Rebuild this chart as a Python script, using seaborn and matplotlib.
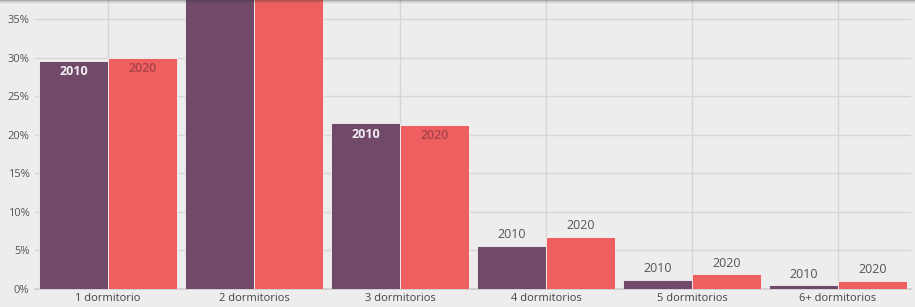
import numpy as np
import pandas as pd
import seaborn as sns
import matplotlib.pyplot as plt
from matplotlib.patches import Rectangle
from matplotlib.ticker import FuncFormatter

# data (percent of dwellings)
categories = ["1 dormitorio", "2 dormitorios", "3 dormitorios",
              "4 dormitorios", "5 dormitorios", "6+ dormitorios"]
years = ["2010", "2020"]
values_2010 = [29.6, 39.0, 21.5, 5.6, 1.2, 0.5]
values_2020 = [30.0, 38.6, 21.3, 6.8, 1.9, 1.1]

BG = "#ededed"
GRID = "#d6d6d6"
PURPLE = "#714a69"
RED = "#f05f5f"
TEXT = "#555555"


def build_df():
    rows = []
    for cat, v10, v20 in zip(categories, values_2010, values_2020):
        rows.append({"cat": cat, "year": years[0], "value": v10})
        rows.append({"cat": cat, "year": years[1], "value": v20})
    return pd.DataFrame(rows)


def plot_df(df):
    sns.set_theme(style="whitegrid")
    plt.rcParams['font.family'] = ['Open Sans', 'DejaVu Sans']

    fig = plt.figure(figsize=(9.15, 3.07), dpi=100, facecolor=BG)
    ax = fig.add_axes([35 / 915, 18 / 307, 876 / 915, 289 / 307])
    ax.set_facecolor(BG)

    ax = sns.barplot(data=df, x="cat", y="value", hue="year", order=categories,
                     hue_order=years, palette=[PURPLE, RED], width=0.94,
                     saturation=1, edgecolor="#f4f4f4", linewidth=0.6, ax=ax,
                     legend=False, zorder=3)

    ax.set_xlim(-0.5, len(categories) - 0.5)
    ax.set_ylim(0, 37.5)
    ax.set_yticks(np.arange(0, 36, 5))
    ax.yaxis.set_major_formatter(FuncFormatter(lambda v, p: f"{v:.0f}%"))
    ax.set_xlabel("")
    ax.set_ylabel("")
    ax.grid(True, color=GRID, linewidth=1, zorder=0)
    for s in ax.spines.values():
        s.set_visible(False)
    ax.spines["bottom"].set_visible(True)
    ax.spines["bottom"].set_color("#cccccc")
    ax.tick_params(axis="y", labelsize=8, colors=TEXT, length=0, pad=4)
    ax.tick_params(axis="x", labelsize=8, colors="#444444", length=0, pad=3)

    # year labels on each bar: inside for tall bars, above for short ones
    for container, year in zip(ax.containers, years):
        for patch in container:
            h = patch.get_height()
            xc = patch.get_x() + patch.get_width() / 2
            if h > 10:
                if year == "2010":
                    color, weight = "#f2eef2", "bold"
                else:
                    color, weight = "#a8434b", "semibold"
                ax.annotate(year, (xc, h), xytext=(0, -8), textcoords="offset points",
                            ha="center", va="center", fontsize=9, color=color,
                            fontweight=weight, zorder=5, annotation_clip=True)
            else:
                ax.annotate(year, (xc, h), xytext=(0, 8), textcoords="offset points",
                            ha="center", va="center", fontsize=9, color=TEXT,
                            zorder=5)

    # soft shadow along the top edge
    for i, a in enumerate([0.35, 0.2, 0.1, 0.04]):
        fig.add_artist(Rectangle((0, 1 - (i + 1) / 307), 1, 1 / 307,
                                 transform=fig.transFigure, color="#333333",
                                 alpha=a, zorder=10, linewidth=0))

    plt.savefig("out.png", dpi=100, facecolor=BG)


def main():
    df = build_df()
    plot_df(df)


if __name__ == '__main__':
    main()
